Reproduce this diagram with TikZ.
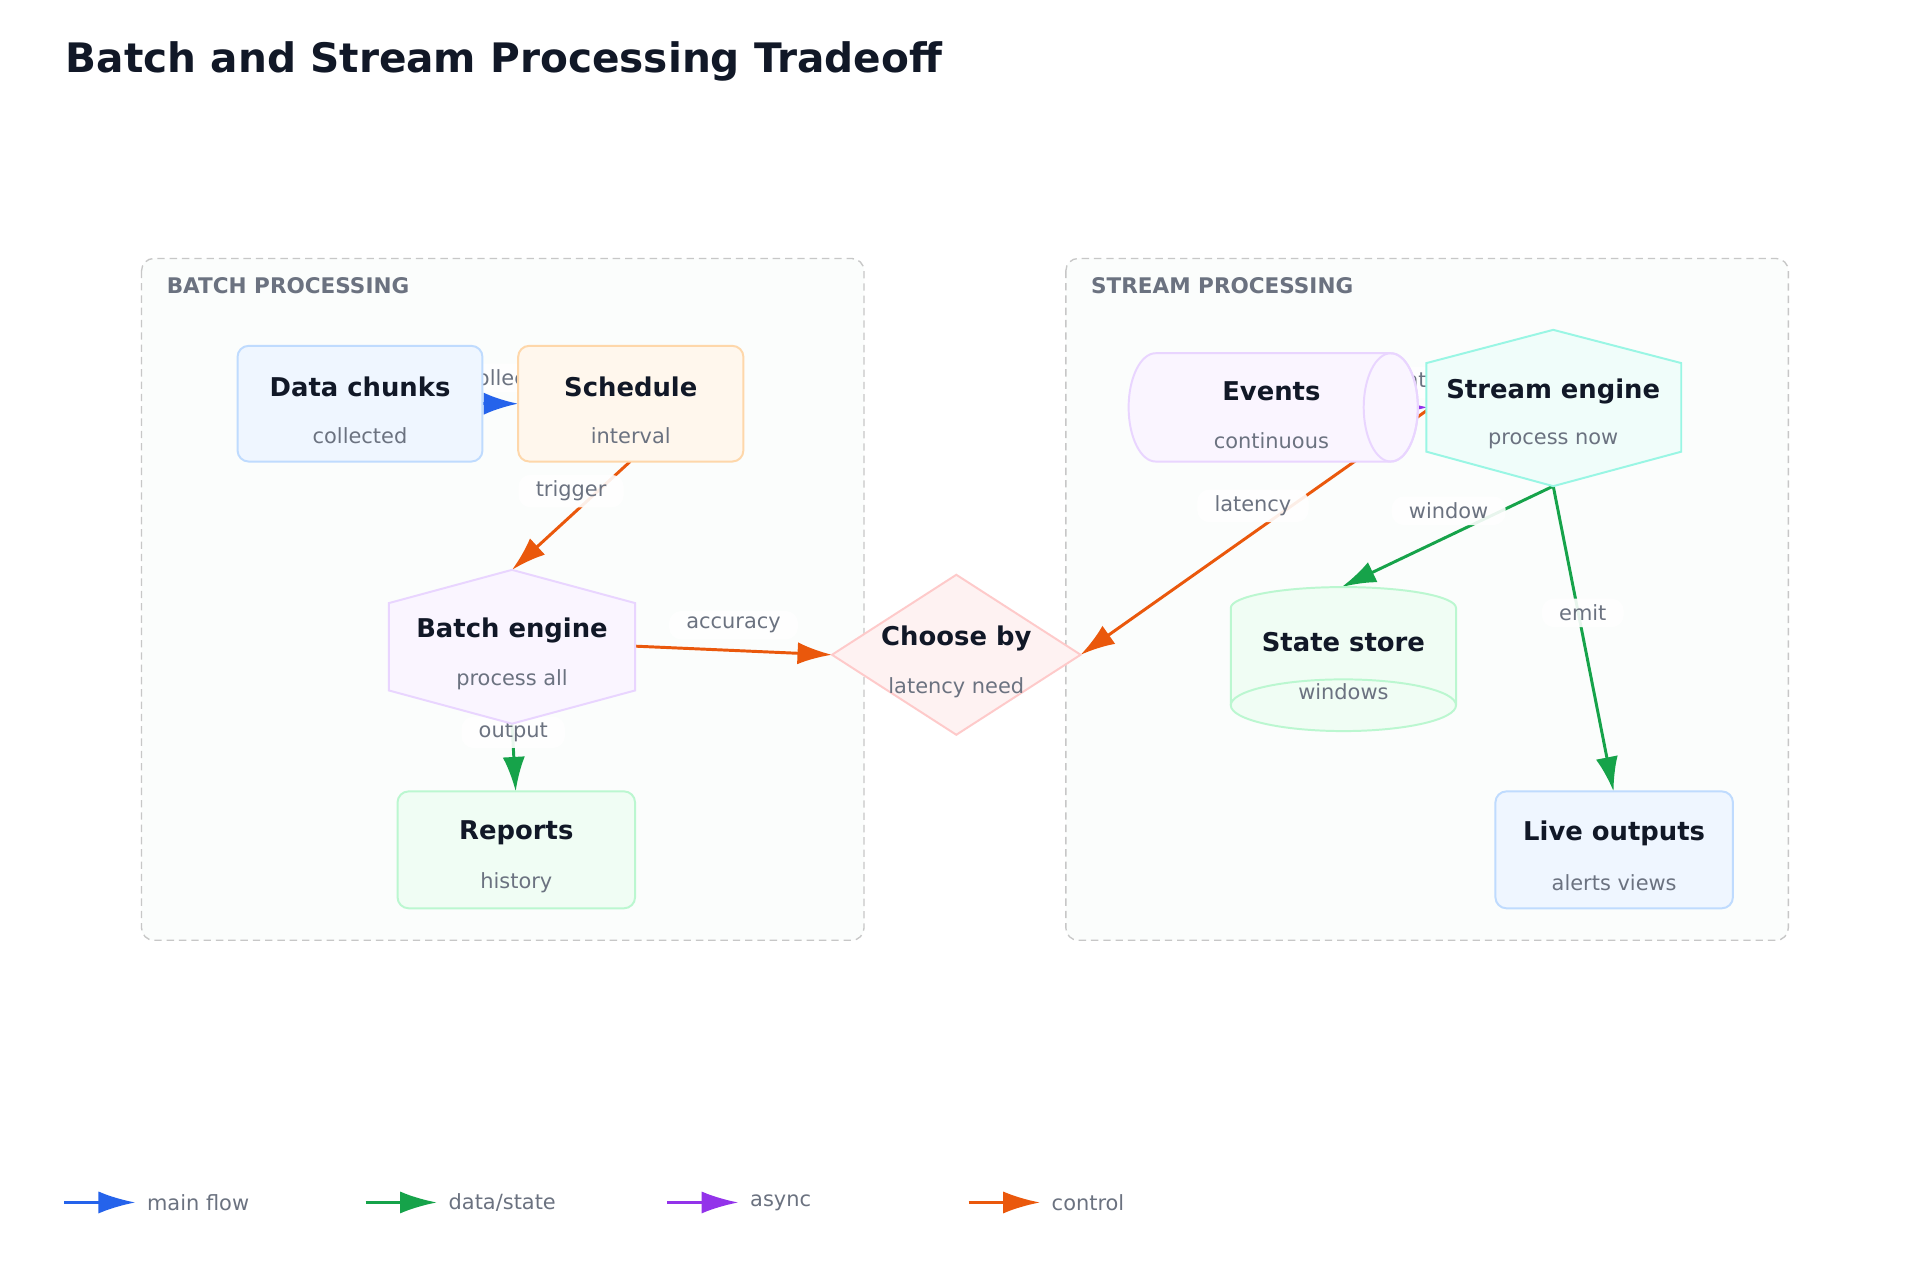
\documentclass[tikz,border=0pt]{standalone}
\usepackage{fontspec}
\setmainfont{DejaVu Sans}
\usetikzlibrary{arrows.meta}
\definecolor{ink}{HTML}{111827}
\definecolor{sub}{HTML}{6B7280}
\definecolor{cblue}{HTML}{2563EB}
\definecolor{cgreen}{HTML}{16A34A}
\definecolor{cpurple}{HTML}{9333EA}
\definecolor{corange}{HTML}{EA580C}
\definecolor{fblue}{HTML}{EFF6FF}\definecolor{sblue}{HTML}{BFDBFE}
\definecolor{fvio}{HTML}{FAF5FF}\definecolor{svio}{HTML}{E9D5FF}
\definecolor{fgrn}{HTML}{F0FDF4}\definecolor{sgrn}{HTML}{BBF7D0}
\definecolor{forg}{HTML}{FFF7ED}\definecolor{sorg}{HTML}{FED7AA}
\definecolor{fred}{HTML}{FEF2F2}\definecolor{sred}{HTML}{FECACA}
\definecolor{ftea}{HTML}{F0FDFA}\definecolor{stea}{HTML}{99F6E4}
\definecolor{fgrp}{HTML}{FBFDFC}
\tikzset{
  ttl/.style={font=\fontsize{21}{25}\selectfont\bfseries,text=ink},
  subt/.style={font=\fontsize{17}{20}\selectfont,text=sub},
  box/.style={rounded corners=9pt,line width=1.6pt},
  grp/.style={draw=black!22,dash pattern=on 6pt off 4pt,line width=1.1pt,rounded corners=10pt,fill=fgrp},
  grplbl/.style={font=\fontsize{17.5}{20}\selectfont\bfseries,text=sub,anchor=west},
  edge/.style={line width=2.4pt,-{Latex[length=28pt,width=18pt]}},
  elbl/.style={font=\fontsize{17}{20}\selectfont,text=sub,fill=white,fill opacity=0.9,text opacity=1,rounded corners=10pt,inner xsep=14pt,inner ysep=5pt},
}
\begin{document}
\begin{tikzpicture}[x=1pt,y=-1pt]
\useasboundingbox[fill=white] (0,0) rectangle (1560,1040);
\node[anchor=west,font=\fontsize{33}{38}\selectfont\bfseries,text=ink] (title) at (50,50) {Batch and Stream Processing Tradeoff};
% groups
\draw[grp] (115,210) rectangle (702,764);
\node[grplbl] (gb) at (132,232) {BATCH PROCESSING};
\draw[grp] (866,210) rectangle (1453,764);
\node[grplbl] (gs) at (883,232) {STREAM PROCESSING};
% anchor coordinates
\coordinate (dcR) at (392,328);
\coordinate (scL) at (421,328);
\coordinate (scB) at (512,375);
\coordinate (beT) at (416,463);
\coordinate (beR) at (516,525);
\coordinate (beB) at (416,588);
\coordinate (rpT) at (419,643);
\coordinate (chL) at (676,532);
\coordinate (chR) at (878,532);
\coordinate (evR) at (1150,331);
\coordinate (seL) at (1160,331);
\coordinate (seL2) at (1160,333);
\coordinate (seB) at (1262,395);
\coordinate (ssT) at (1090,477);
\coordinate (loT) at (1311,643);
% edges (behind nodes)
\draw[edge,cblue] (dcR) -- (scL);
\node[elbl] (l1) at (406,307) {collect};
\draw[edge,corange] (scB) -- (beT);
\node[elbl] (l2) at (464,399) {trigger};
\draw[edge,corange] (beR) -- (chL);
\node[elbl] (l3) at (596,508) {accuracy};
\draw[edge,cgreen] (beB) -- (rpT);
\node[elbl] (l4) at (417,595) {output};
\draw[edge,cpurple] (evR) -- (seL);
\node[elbl] (l5) at (1118,311) {per event};
\draw[edge,corange] (seL2) -- (chR);
\node[elbl] (l6) at (1018,411) {latency};
\draw[edge,cgreen] (seB) -- (ssT);
\node[elbl] (l7) at (1177,415) {window};
\draw[edge,cgreen] (seB) -- (loT);
\node[elbl] (l8) at (1286,498) {emit};
% nodes
\draw[box,fill=fblue,draw=sblue] (193,281) rectangle (392,375);
\node[ttl] (dc) at (292.5,314) {Data chunks};
\node[subt] (dcs) at (292.5,354) {collected};
\draw[box,fill=forg,draw=sorg] (421,281) rectangle (604,375);
\node[ttl] (sc) at (512.5,314) {Schedule};
\node[subt] (scs) at (512.5,354) {interval};
\draw[line width=1.6pt,fill=fvio,draw=svio] (416,463) -- (516,490) -- (516,561) -- (416,588) -- (316,561) -- (316,490) -- cycle;
\node[ttl] (be) at (416,512) {Batch engine};
\node[subt] (bes) at (416,552) {process all};
\draw[box,fill=fgrn,draw=sgrn] (323,643) rectangle (516,738);
\node[ttl] (rp) at (419.5,677) {Reports};
\node[subt] (rps) at (419.5,717) {history};
\draw[line width=1.6pt,fill=fred,draw=sred] (777,467) -- (878,532) -- (777,597) -- (676,532) -- cycle;
\node[ttl] (ch) at (777,519) {Choose by};
\node[subt] (chs) at (777,559) {latency need};
% events cylinder
\draw[line width=1.6pt,fill=fvio,draw=svio] (1130,287) -- (939,287) arc[start angle=270,end angle=90,x radius=22,y radius=44] -- (1130,375) arc[start angle=90,end angle=-90,x radius=22,y radius=44];
\draw[line width=1.6pt,draw=svio] (1130,331) ellipse[x radius=22,y radius=44];
\node[ttl] (ev) at (1033,318) {Events};
\node[subt] (evs) at (1033,358) {continuous};
% stream engine
\draw[line width=1.6pt,fill=ftea,draw=stea] (1262,268) -- (1366,295) -- (1366,367) -- (1262,395) -- (1159,367) -- (1159,295) -- cycle;
\node[ttl] (se) at (1262,318) {Stream engine};
\node[subt] (ses) at (1262,358) {process now};
% state store
\draw[line width=1.6pt,fill=fgrn,draw=sgrn] (1000,494) arc[start angle=180,end angle=360,x radius=91.5,y radius=17] -- (1183,573) arc[start angle=0,end angle=180,x radius=91.5,y radius=21] -- cycle;
\draw[line width=1.6pt,draw=sgrn] (1000,573) arc[start angle=180,end angle=360,x radius=91.5,y radius=21];
\node[ttl] (ss) at (1091.5,522) {State store};
\node[subt] (sss) at (1091.5,562) {windows};
\draw[box,fill=fblue,draw=sblue] (1215,643) rectangle (1408,738);
\node[ttl] (lo) at (1311.5,677) {Live outputs};
\node[subt] (los) at (1311.5,717) {alerts views};
% legend
\foreach \x/\c/\t/\n in {52/cblue/main flow/a,297/cgreen/data\slash state/b,542/cpurple/async/c,787/corange/control/d}{
  \coordinate (lg\n s) at (\x,977);
  \coordinate (lg\n e) at (\x+58,977);
  \draw[\c,line width=2.4pt,-{Latex[length=30pt,width=18pt]}] (lg\n s) -- (lg\n e);
  \node[anchor=west,font=\fontsize{17}{20}\selectfont,text=sub] (lgt\n) at (\x+64,977) {\t};
}
\end{tikzpicture}
\end{document}
